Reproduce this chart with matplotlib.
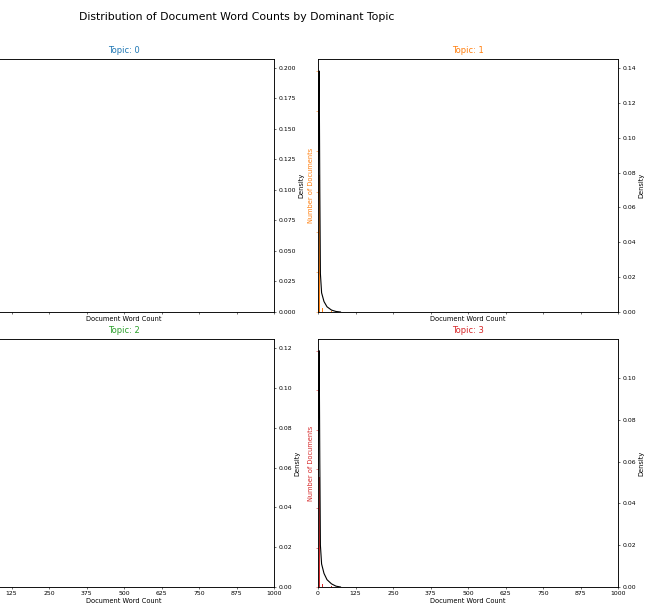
import numpy as np
import matplotlib
matplotlib.use("Agg")
import matplotlib.pyplot as plt

# ---------------- data ----------------
topics = [0, 1, 2, 3]
topic_colors = ["#1f77b4", "#ff7f0e", "#2ca02c", "#d62728"]

# histogram: word count -> number of documents (bars are ~invisible, bins very thin)
hist_word_counts = [1, 2, 3, 4, 5, 6, 7, 8, 10, 12, 15, 20, 30, 45]
hist_docs_t0 = [40, 160, 260, 300, 240, 150, 90, 50, 25, 12, 6, 3, 1, 1]
hist_docs_t1 = [30, 110, 190, 210, 170, 110, 60, 35, 18, 9, 5, 2, 1, 1]
hist_docs_t2 = [25, 100, 170, 190, 150, 100, 55, 30, 15, 8, 4, 2, 1, 0]
hist_docs_t3 = [20, 90, 160, 180, 140, 95, 50, 28, 14, 7, 4, 2, 1, 1]

# kde (density) curves
kde_x = [-8, -4, 0, 2, 4, 6, 8, 12, 20, 30, 45, 60, 75]
kde_t0 = [0.0, 0.03, 0.12, 0.185, 0.1975, 0.10, 0.03, 0.014, 0.007, 0.003, 0.0012, 0.0003, 0.0]
kde_t1 = [0.0, 0.02, 0.08, 0.128, 0.1383, 0.07, 0.022, 0.011, 0.006, 0.003, 0.0011, 0.0003, 0.0]
kde_t2 = [0.0, 0.02, 0.07, 0.11, 0.1186, 0.06, 0.02, 0.011, 0.006, 0.003, 0.0011, 0.0003, 0.0]
kde_t3 = [0.0, 0.02, 0.06, 0.10, 0.113, 0.06, 0.02, 0.011, 0.0065, 0.0035, 0.0015, 0.0004, 0.0]

hist_docs = [hist_docs_t0, hist_docs_t1, hist_docs_t2, hist_docs_t3]
kde_vals = [kde_t0, kde_t1, kde_t2, kde_t3]
xtick_vals = [0, 125, 250, 375, 500, 625, 750, 875, 1000]

# ---------------- style ----------------
plt.rcParams.update({
    "font.family": "DejaVu Sans",
    "font.size": 4.5,
    "axes.linewidth": 0.5,
    "xtick.major.width": 0.4,
    "ytick.major.width": 0.4,
    "xtick.major.size": 1.6,
    "ytick.major.size": 1.6,
    "xtick.major.pad": 1.4,
    "ytick.major.pad": 1.4,
    "xtick.labelsize": 4.4,
    "ytick.labelsize": 4.4,
    "axes.labelsize": 4.8,
    "axes.labelpad": 1.6,
    "axes.titlepad": 4.0,
})

W, H = 652, 604
fig = plt.figure(figsize=(W / 100, H / 100), dpi=100)

col_x = [-26, 318]
ax_w = 300
rows = [(59, 312), (339, 587)]

axes = []
first = None
for i in topics:
    r, c = divmod(i, 2)
    top, bot = rows[r]
    rect = [col_x[c] / W, 1 - bot / H, ax_w / W, (bot - top) / H]
    if first is None:
        ax = fig.add_axes(rect)
        first = ax
    else:
        ax = fig.add_axes(rect, sharex=first, sharey=first)
    axes.append(ax)

for i, ax in enumerate(axes):
    col = topic_colors[i]
    ax.bar(hist_word_counts, hist_docs[i], width=0.07, color=col, linewidth=0)
    ax.tick_params(axis='y', labelcolor=col, color=col)
    tw = ax.twinx()
    tw.plot(kde_x, kde_vals[i], color="black", lw=0.8)
    tw.set_ylim(0, max(kde_vals[i]) * 1.05)
    tw.set_ylabel("Density")
    ax.set_xlim(0, 1000)
    ax.set_xlabel("Document Word Count")
    ax.set_ylabel("Number of Documents", color=col)
    ax.set_title("Topic: " + str(topics[i]), fontsize=6.0, color=col)
    r, c = divmod(i, 2)
    if r == 0:
        ax.tick_params(axis='x', labelbottom=False)
    if c == 1:
        ax.tick_params(axis='y', labelleft=False)

axes[0].set_xticks(xtick_vals)

fig.text(237 / W, 1 - 17 / H, "Distribution of Document Word Counts by Dominant Topic",
         ha="center", va="center", fontsize=7.8)

fig.savefig("out.png", dpi=100)
